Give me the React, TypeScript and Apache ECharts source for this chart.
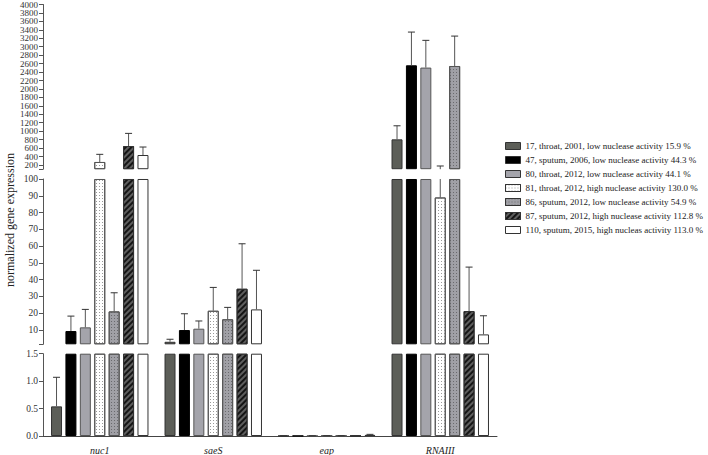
import React, { useEffect, useRef } from "react";
import * as echarts from "echarts";

const categories = ["nuc1", "saeS", "eap", "RNAIII"];

const samples = [
  "17, throat, 2001, low nuclease activity 15.9 %",
  "47, sputum, 2006, low nuclease activity 44.3 %",
  "80, throat, 2012, low nuclease activity 44.1 %",
  "81, throat, 2012, high nuclease activity 130.0 %",
  "86, sputum, 2012, low nuclease activity 54.9 %",
  "87, sputum, 2012, high nuclease activity 112.8 %",
  "110, sputum, 2015, high nucleas activity 113.0 %",
];

// means per sample: nuc1, saeS, eap, RNAIII
const s17 = [0.54, 3.0, 0.003, 807];
const s47 = [9.4, 10.0, 0.003, 2560];
const s80 = [11.6, 10.8, 0.003, 2506];
const s81 = [271, 21.5, 0.003, 89];
const s86 = [21.1, 16.4, 0.003, 2544];
const s87 = [649, 34.6, 0.003, 21.3];
const s110 = [436, 22.3, 0.02, 7.4];

// upper end of error bars (mean + SD)
const e17 = [1.07, 4.5, 0.005, 1128];
const e47 = [18.3, 19.7, 0.005, 3347];
const e80 = [22.3, 15.4, 0.005, 3151];
const e81 = [452, 35.4, 0.005, 176];
const e86 = [32.2, 23.5, 0.005, 3252];
const e87 = [948, 61.4, 0.005, 47.5];
const e110 = [625, 45.6, 0.03, 18.5];

const means = [s17, s47, s80, s81, s86, s87, s110];
const errs = [e17, e47, e80, e81, e86, e87, e110];

// axis segments (broken y axis)
const topTickLabels = [200, 400, 600, 800, 1000, 1200, 1400, 1600, 1800, 2000, 2200, 2400, 2600, 2800, 3000, 3200, 3400, 3600, 3800, 4000];
const midTickLabels = [10, 20, 30, 40, 50, 60, 70, 80, 90, 100];
const lowTickLabels = [0, 0.5, 1.0, 1.5];
const topRange = [100, 4000];
const midRange = [1.5, 100];
const lowRange = [0, 1.5];

const FONT = '"Liberation Serif", "Times New Roman", serif';
const BAR_W = 11;
const BAR_GAP = 0.31;

const dotsLight = { symbol: "rect", symbolSize: 1, dashArrayX: [1, 2], dashArrayY: [1, 2], color: "#9a9a9a", rotation: 0 };
const dotsDark = { symbol: "rect", symbolSize: 1, dashArrayX: [1, 2], dashArrayY: [1, 2], color: "#6a6a6e", rotation: 0 };
const hatch = { symbol: "rect", symbolSize: 1, dashArrayX: [1, 0], dashArrayY: [1.4, 1.6], color: "#151515", rotation: -Math.PI / 4 };

const itemStyles: any[] = [
  { color: "#5c5e58", borderColor: "#333", borderWidth: 1 },
  { color: "#000000", borderColor: "#000", borderWidth: 1 },
  { color: "#a4a4ab", borderColor: "#555", borderWidth: 1 },
  { color: "#ffffff", borderColor: "#555", borderWidth: 1, decal: dotsLight },
  { color: "#a0a0a6", borderColor: "#555", borderWidth: 1, decal: dotsDark },
  { color: "#5e5e5e", borderColor: "#333", borderWidth: 1, decal: hatch },
  { color: "#ffffff", borderColor: "#333", borderWidth: 1 },
];

export default function App() {
  const ref = useRef<HTMLDivElement>(null);
  useEffect(() => {
    if (!ref.current) return;
    const chart = echarts.init(ref.current, null, { renderer: "svg" });

    const segs = [
      { range: topRange, top: 4.5, height: 164.7, ticks: [100, ...topTickLabels], labels: topTickLabels.filter((_, i) => i % 2 === 0), fs: 9, lh: 8, fmt: (v: number) => String(v) },
      { range: midRange, top: 179, height: 165.3, ticks: [1.5, ...midTickLabels], labels: midTickLabels, fs: 9.5, lh: 10, fmt: (v: number) => String(v) },
      { range: lowRange, top: 353.7, height: 82.6, ticks: lowTickLabels, labels: lowTickLabels, fs: 9.5, lh: 10, fmt: (v: number) => v.toFixed(1) },
    ];

    const grid = segs.map((s) => ({ left: 43, width: 454, top: s.top, height: s.height, containLabel: false }));
    const xAxis = segs.map((s, g) => ({
      type: "category",
      gridIndex: g,
      data: categories,
      show: g === 2,
      axisLine: { show: true, lineStyle: { color: "#444", width: 1 } },
      axisTick: { show: false },
      axisLabel: { fontStyle: "italic", fontFamily: FONT, fontSize: 10, color: "#222", margin: 9 },
    }));
    const labelBase = (s: any) => ({
      showMaxLabel: true,
      showMinLabel: true,
      hideOverlap: false,
      fontFamily: FONT,
      fontSize: s.fs,
      lineHeight: s.lh,
      color: "#333",
      margin: 5,
      formatter: s.fmt,
    });
    const yAxis: any[] = segs.map((s, g) => ({
      type: "value",
      gridIndex: g,
      position: "left",
      min: s.range[0],
      max: s.range[1],
      splitLine: { show: false },
      axisLine: { show: true, onZero: false, lineStyle: { color: "#555", width: 1 } },
      axisTick: { show: true, length: 4, customValues: s.ticks, lineStyle: { color: "#555" } },
      axisLabel: { customValues: s.labels, ...labelBase(s) },
    }));
    // second label-only axis on the top segment for the alternate tick labels
    yAxis.push({
      type: "value",
      gridIndex: 0,
      position: "left",
      offset: 0,
      min: topRange[0],
      max: topRange[1],
      splitLine: { show: false },
      axisLine: { show: false, onZero: false },
      axisTick: { show: false },
      axisLabel: { customValues: topTickLabels.filter((_, i) => i % 2 === 1), ...labelBase(segs[0]) },
    });

    const series: any[] = [];
    const pitch = BAR_W * (1 + BAR_GAP);
    segs.forEach((s, g) => {
      const [lo, hi] = s.range;
      means.forEach((vals, k) => {
        const stack = `g${g}k${k}`;
        if (lo > 0) {
          series.push({
            type: "bar",
            name: "_base",
            xAxisIndex: g,
            yAxisIndex: g,
            stack,
            barWidth: BAR_W,
            barGap: `${BAR_GAP * 100}%`,
            silent: true,
            itemStyle: { color: "rgba(0,0,0,0)", borderWidth: 0 },
            data: vals.map((v) => (v > lo ? lo : "-")),
          });
        }
        series.push({
          type: "bar",
          name: samples[k],
          xAxisIndex: g,
          yAxisIndex: g,
          stack,
          barWidth: BAR_W,
          barGap: `${BAR_GAP * 100}%`,
          itemStyle: itemStyles[k],
          data: vals.map((v) => (v > lo ? Math.min(v, hi) - lo : "-")),
        });
      });
      const errData: any[] = [];
      means.forEach((vals, k) => vals.forEach((v, c) => errData.push([c, k, v, errs[k][c]])));
      series.push({
        type: "custom",
        name: "_err",
        xAxisIndex: g,
        yAxisIndex: g,
        silent: true,
        z: 5,
        encode: { x: 0, y: 2 },
        data: errData,
        renderItem: (params: any, api: any) => {
          const c = api.value(0);
          const k = api.value(1);
          const v = api.value(2);
          const e = api.value(3);
          if (e <= lo || v >= hi || e <= v) return { type: "group", children: [] };
          const x = api.coord([c, lo])[0] + (k - 3) * pitch;
          const y1 = api.coord([c, Math.max(v, lo)])[1];
          const y2 = api.coord([c, Math.min(e, hi)])[1];
          const children: any[] = [
            { type: "line", shape: { x1: x, y1, x2: x, y2 }, style: { stroke: "#555", lineWidth: 1 } },
          ];
          if (e <= hi) {
            children.push({ type: "line", shape: { x1: x - 3.5, y1: y2, x2: x + 3.5, y2: y2 }, style: { stroke: "#333", lineWidth: 1 } });
          }
          return { type: "group", children };
        },
      });
    });

    chart.setOption({
      animation: false,
      backgroundColor: "#ffffff",
      grid,
      xAxis,
      yAxis,
      legend: {
        orient: "vertical",
        left: 505,
        top: 140,
        padding: 0,
        itemWidth: 15,
        itemHeight: 7,
        itemGap: 2,
        icon: "rect",
        selectedMode: false,
        itemStyle: { borderColor: "#333", borderWidth: 1 },
        textStyle: { fontFamily: FONT, fontSize: 9, color: "#222", lineHeight: 12 },
        data: samples,
      },
      graphic: [
        {
          type: "text",
          x: 10,
          y: 220,
          rotation: Math.PI / 2,
          style: {
            text: "normalized gene expression",
            font: `12px ${FONT}`,
            fill: "#222",
            textAlign: "center",
            textVerticalAlign: "middle",
            align: "center",
            verticalAlign: "middle",
          },
        },
      ],
      series,
    });
    return () => chart.dispose();
  }, []);
  return <div ref={ref} style={{ position: "fixed", left: 0, top: 0, width: 708, height: 455 }} />;
}
